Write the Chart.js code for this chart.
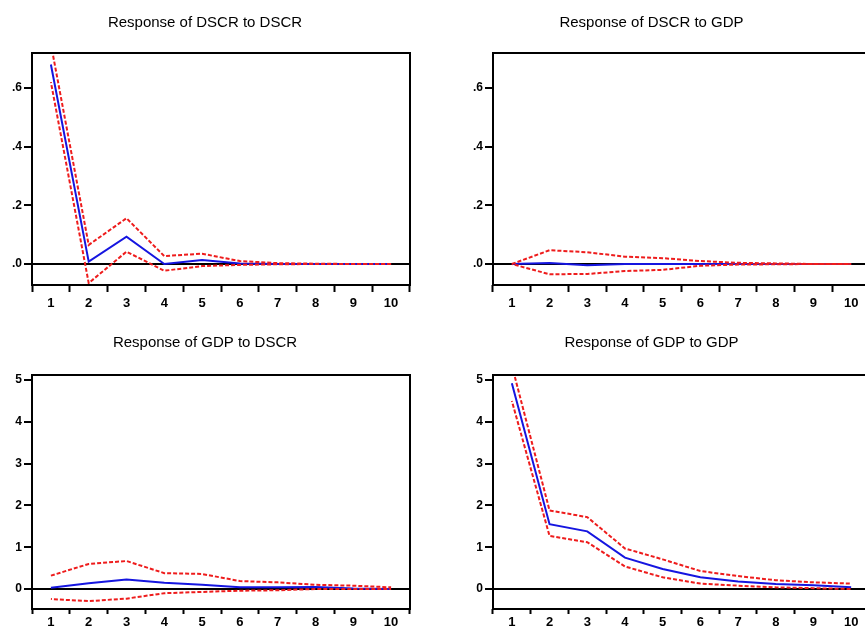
<!DOCTYPE html>
<html>
<head>
<meta charset="utf-8">
<script src="https://cdn.jsdelivr.net/npm/chart.js@4"></script>
<style>
html,body{margin:0;padding:0;background:#fff;width:865px;height:631px;overflow:hidden;position:relative;}
canvas{position:absolute;}
</style>
</head>
<body>
<canvas id="c1" style="left:0;top:0;width:432px;height:316px"></canvas>
<canvas id="c2" style="left:433px;top:0;width:440px;height:316px"></canvas>
<canvas id="c3" style="left:0;top:316px;width:432px;height:315px"></canvas>
<canvas id="c4" style="left:433px;top:316px;width:440px;height:315px"></canvas>
<script>
// ---- data ----
const periods = ['1','2','3','4','5','6','7','8','9','10'];

const titles = ['Response of DSCR to DSCR','Response of DSCR to GDP','Response of GDP to DSCR','Response of GDP to GDP'];

const dscrDscr   = [0.68, 0.008, 0.093, 0.000, 0.014, 0.002, 0.000, 0.000, 0.000, 0.000];
const dscrDscrUp = [0.75, 0.065, 0.156, 0.027, 0.035, 0.010, 0.003, 0.001, 0.000, 0.000];
const dscrDscrLo = [0.62, -0.065, 0.042, -0.023, -0.007, -0.003, -0.001, 0.000, 0.000, 0.000];

const dscrGdp    = [0.000, 0.003, -0.004, 0.000, 0.000, 0.000, 0.000, 0.000, 0.000, 0.000];
const dscrGdpUp  = [0.000, 0.047, 0.040, 0.025, 0.020, 0.010, 0.004, 0.002, 0.000, 0.000];
const dscrGdpLo  = [0.000, -0.035, -0.034, -0.024, -0.020, -0.006, -0.002, -0.001, 0.000, 0.000];

const gdpDscr    = [0.03, 0.14, 0.23, 0.15, 0.10, 0.04, 0.04, 0.05, 0.01, 0.00];
const gdpDscrUp  = [0.32, 0.60, 0.67, 0.38, 0.36, 0.19, 0.16, 0.10, 0.08, 0.04];
const gdpDscrLo  = [-0.24, -0.29, -0.23, -0.10, -0.07, -0.04, -0.03, 0.00, 0.00, 0.00];

const gdpGdp     = [4.92, 1.55, 1.38, 0.75, 0.48, 0.28, 0.18, 0.12, 0.09, 0.04];
const gdpGdpUp   = [5.35, 1.88, 1.72, 0.97, 0.71, 0.43, 0.31, 0.21, 0.16, 0.13];
const gdpGdpLo   = [4.50, 1.27, 1.12, 0.54, 0.28, 0.13, 0.08, 0.04, 0.02, 0.00];

const topTicks = [0, 0.2, 0.4, 0.6];
const topTickLabels = ['.0', '.2', '.4', '.6'];
const bottomTicks = [0, 1, 2, 3, 4, 5];
const bottomTickLabels = ['0', '1', '2', '3', '4', '5'];

// ---- drawing ----
const framePlugin = {
  id: 'frame',
  afterDatasetsDraw(chart) {
    const a = chart.chartArea, ctx = chart.ctx;
    ctx.save();
    ctx.strokeStyle = '#000';
    ctx.lineWidth = 2;
    ctx.strokeRect(a.left, a.top, a.right - a.left, a.bottom - a.top);
    ctx.restore();
  }
};

function makeChart(id, cfg) {
  const el = document.getElementById(id);
  new Chart(el, {
    type: 'line',
    data: {
      labels: periods,
      datasets: [
        {data: cfg.mid, borderColor: '#1515e0', borderWidth: 2, pointRadius: 0, tension: 0, order: 2},
        {data: cfg.up, borderColor: '#ee1c1c', borderWidth: 2, borderDash: [4, 2], pointRadius: 0, tension: 0, order: 1},
        {data: cfg.lo, borderColor: '#ee1c1c', borderWidth: 2, borderDash: [4, 2], borderDashOffset: 3, pointRadius: 0, tension: 0, order: 1}
      ]
    },
    options: {
      responsive: false,
      animation: false,
      devicePixelRatio: 1,
      layout: {padding: {left: 0, right: cfg.padRight, top: 0, bottom: 0}},
      plugins: {
        legend: {display: false},
        tooltip: {enabled: false},
        title: {
          display: true,
          text: cfg.title,
          color: '#000',
          font: {family: 'Liberation Sans, Arial, sans-serif', size: 15, weight: 'normal', lineHeight: 1.2},
          padding: {top: cfg.titleTop, bottom: cfg.titleBottom}
        }
      },
      scales: {
        x: {
          type: 'category',
          offset: true,
          border: {display: false},
          grid: {offset: true, drawOnChartArea: false, drawTicks: true, tickLength: cfg.xTickLen, tickColor: '#000', tickWidth: 2},
          ticks: {color: '#000', autoSkip: false, maxRotation: 0, padding: cfg.xPad,
                  font: {family: 'Liberation Sans, Arial, sans-serif', size: 13, weight: 'bold'}},
          afterFit(s) { s.height = cfg.xHeight; }
        },
        y: {
          type: 'linear',
          min: cfg.min, max: cfg.max,
          border: {display: false},
          grid: {
            drawOnChartArea: true, drawTicks: true, tickLength: 8, tickWidth: 2, tickColor: '#000',
            color: c => (c.tick && c.tick.value === 0) ? '#000' : 'rgba(0,0,0,0)',
            lineWidth: 2
          },
          afterBuildTicks(s) { s.ticks = cfg.ticks.map(v => ({value: v})); },
          ticks: {
            color: '#000', padding: 2,
            font: {family: 'Liberation Sans, Arial, sans-serif', size: 12, weight: 'bold'},
            callback: v => cfg.tickLabels[cfg.ticks.indexOf(v)]
          },
          afterFit(s) { s.width = cfg.yWidth; }
        }
      }
    },
    plugins: [framePlugin]
  });
}

function setSize(id, w, h) {
  const el = document.getElementById(id);
  el.width = w; el.height = h;
}
setSize('c1', 432, 316); setSize('c2', 440, 316); setSize('c3', 432, 315); setSize('c4', 440, 315);

const topCommon = {min: -0.0716, max: 0.7193, ticks: topTicks, tickLabels: topTickLabels,
  titleTop: 14, titleBottom: 21, xHeight: 31, xTickLen: 7, xPad: 4};
const botCommon = {min: -0.478, max: 5.12, ticks: bottomTicks, tickLabels: bottomTickLabels,
  titleTop: 18, titleBottom: 23, xHeight: 22, xTickLen: 5, xPad: 1};

makeChart('c1', Object.assign({}, topCommon, {title: titles[0], mid: dscrDscr, up: dscrDscrUp, lo: dscrDscrLo, yWidth: 32, padRight: 22}));
makeChart('c2', Object.assign({}, topCommon, {title: titles[1], mid: dscrGdp, up: dscrGdpUp, lo: dscrGdpLo, yWidth: 60, padRight: 3}));
makeChart('c3', Object.assign({}, botCommon, {title: titles[2], mid: gdpDscr, up: gdpDscrUp, lo: gdpDscrLo, yWidth: 32, padRight: 22}));
makeChart('c4', Object.assign({}, botCommon, {title: titles[3], mid: gdpGdp, up: gdpGdpUp, lo: gdpGdpLo, yWidth: 60, padRight: 3}));
</script>
</body>
</html>
